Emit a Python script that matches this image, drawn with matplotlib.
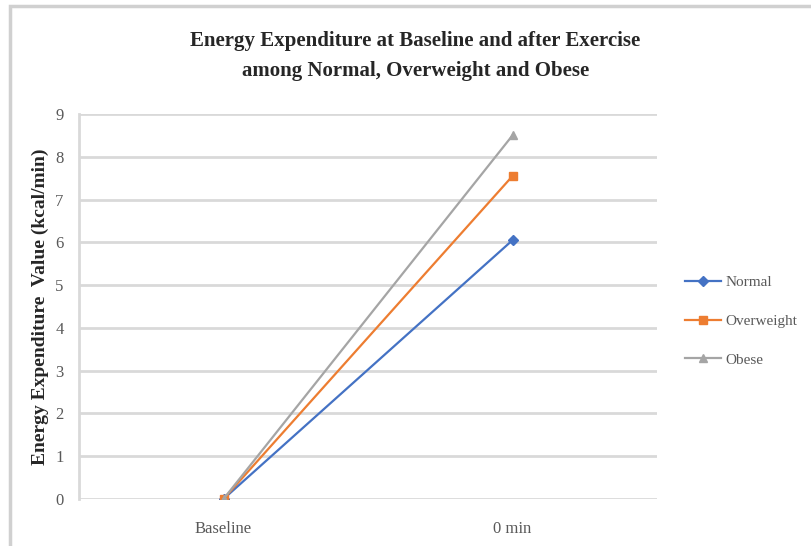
import matplotlib.pyplot as plt
from matplotlib.patches import Rectangle

# ---------------- DATA ----------------
CATEGORIES = ["Baseline", "0 min"]
NORMAL = [0, 6.05]
OVERWEIGHT = [0, 7.55]
OBESE = [0, 8.5]
Y_TICKS = list(range(0, 10))

TITLE = "Energy Expenditure at Baseline and after Exercise\namong Normal, Overweight and Obese"
Y_LABEL = "Energy Expenditure  Value (kcal/min)"

W, H = 811, 546
fig = plt.figure(figsize=(W / 100, H / 100), dpi=100)
plt.rcParams["font.family"] = ["Liberation Serif", "DejaVu Serif"]

# chart area frame (like an Excel chart border)
fig.patches.append(Rectangle((10 / W, -0.01), 1.0, 1 - 6 / H + 0.01, transform=fig.transFigure,
                             fill=False, edgecolor="#d0d0d0", linewidth=2.5))

ax = fig.add_axes([79 / W, 1 - 499 / H, (657 - 79) / W, (499 - 114) / H])
x = range(len(CATEGORIES))
ax.plot(x, NORMAL, color="#4472c4", marker="D", markersize=5, linewidth=1.6, label="Normal")
ax.plot(x, OVERWEIGHT, color="#ed7d31", marker="s", markersize=6, linewidth=1.6, label="Overweight")
ax.plot(x, OBESE, color="#a5a5a5", marker="^", markersize=6, linewidth=1.6, label="Obese")

ax.set_xlim(-0.5, 1.5)
ax.set_ylim(0, 9)
ax.set_yticks(Y_TICKS)
ax.set_xticks(list(x))
ax.set_xticklabels(CATEGORIES)
ax.grid(axis="y", color="#d9d9d9", linewidth=2)
ax.set_axisbelow(True)
for s in ["top", "right", "bottom"]:
    ax.spines[s].set_visible(False)
ax.spines["left"].set_color("#d9d9d9")
ax.spines["left"].set_linewidth(2)
ax.tick_params(length=0, colors="#595959", labelsize=12)
ax.tick_params(axis="y", pad=11)
ax.tick_params(axis="x", pad=16)

ax.set_ylabel(Y_LABEL, fontsize=14, fontweight="bold", color="#262626", va="center")
ax.yaxis.set_label_coords((40 - 79) / 578, 0.5)

fig.text(0.512, 1 - 56 / H, TITLE, ha="center", va="center", fontsize=15, fontweight="bold",
         color="#262626", linespacing=1.65)

ax.legend(loc="center left", bbox_to_anchor=(671 / W, 1 - 321 / H), bbox_transform=fig.transFigure,
          frameon=False, fontsize=11, handlelength=2.4, labelspacing=1.65, handletextpad=0.25,
          labelcolor="#595959")

fig.savefig("out.png", dpi=100)
